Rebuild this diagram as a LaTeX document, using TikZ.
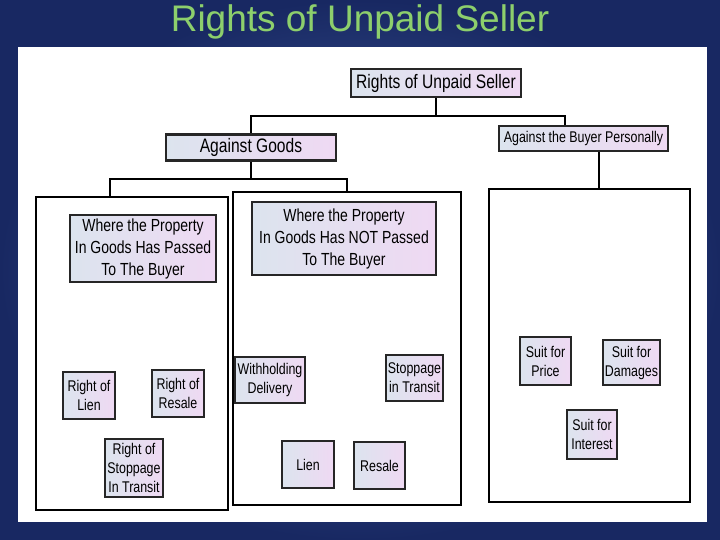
\documentclass[tikz,border=0pt]{standalone}
\usepackage{fontspec}
\setmainfont{Liberation Sans}
\newfontfamily\narrowfont{Liberation Sans}[FakeStretch=0.8]
\definecolor{bgin}{HTML}{4A6AAE}
\definecolor{bgout}{HTML}{182862}
\definecolor{titlegreen}{HTML}{8DCF6C}
\definecolor{boxleft}{HTML}{DCE4EE}
\definecolor{boxright}{HTML}{EFD9F3}

\begin{document}
\begin{tikzpicture}
[
    x = 1pt, y = -1pt,
    box/.style = {draw = black!85, line width = 2.5pt, left color = boxleft, right color = boxright,
        inner sep = 1pt, align = center, font = \narrowfont\fontsize{15.5}{19}\selectfont},
    bigtext/.style = {font = \narrowfont\fontsize{19.5}{22}\selectfont},
    midtext/.style = {font = \narrowfont\fontsize{17.5}{22}\selectfont},
    panel/.style = {draw = black, line width = 2.5pt, fill = white, inner sep = 0pt},
    conn/.style = {draw = black, line width = 2pt}
]

\useasboundingbox (0,0) rectangle (720,540);
\shade [inner color = bgin, outer color = bgout] (0,0) rectangle (720,540);
\fill [white] (18,47) rectangle (707,522);
\node [titlegreen, font = \fontsize{37}{40}\selectfont] (title) at (360,22) {Rights of Unpaid Seller};

\node [box, bigtext, minimum width = 170pt, minimum height = 28pt] (root) at (436,83) {Rights of Unpaid Seller};
\node [box, bigtext, minimum width = 170pt, minimum height = 26pt] (goods) at (251,147.5) {Against Goods};
\node [box, minimum width = 169pt, minimum height = 25pt] (buyer) at (583.5,138.5) {Against the Buyer Personally};

\node [panel, minimum width = 192pt, minimum height = 313pt] (leftbox) at (132,353.5) {};
\node [panel, minimum width = 228pt, minimum height = 313pt] (midbox) at (347,348.5) {};
\node [panel, minimum width = 201pt, minimum height = 313pt] (rightbox) at (589.5,345.5) {};

\node [box, midtext, minimum width = 146pt, minimum height = 67pt] (passed) at (143,248.5)
    {Where the Property\\In Goods Has Passed\\To The Buyer};
\node [box, midtext, minimum width = 184pt, minimum height = 73pt] (notpassed) at (344,238.5)
    {Where the Property\\In Goods Has NOT Passed\\To The Buyer};

\node [box, minimum width = 52pt, minimum height = 47pt] (rlien) at (89,395.5) {Right of\\Lien};
\node [box, minimum width = 52pt, minimum height = 47pt] (rresale) at (178,393.5) {Right of\\Resale};
\node [box, minimum width = 58pt, minimum height = 58pt] (rstop) at (134,468) {Right of\\Stoppage\\In Transit};

\node [box, minimum width = 70pt, minimum height = 46pt] (withhold) at (270,380) {Withholding\\Delivery};
\node [box, minimum width = 57pt, minimum height = 46pt] (stoptransit) at (414.5,378) {Stoppage\\in Transit};
\node [box, minimum width = 52pt, minimum height = 47pt] (lien) at (308,464.5) {Lien};
\node [box, minimum width = 51pt, minimum height = 47pt] (resale) at (379.5,465.5) {Resale};

\node [box, minimum width = 51pt, minimum height = 48pt] (sprice) at (545.5,361) {Suit for\\Price};
\node [box, minimum width = 57pt, minimum height = 45pt] (sdamages) at (631.5,362.5) {Suit for\\Damages};
\node [box, minimum width = 50pt, minimum height = 49pt] (sinterest) at (592,434.5) {Suit for\\Interest};

\draw [conn] (root.south) -- ++(0,18) coordinate (rootjoin);
\draw [conn] (goods.north) |- (rootjoin) -| ([xshift=-19pt]buyer.north);
\draw [conn] (goods.south) -- ++(0,17) coordinate (goodsjoin);
\draw [conn] ([xshift=-22pt]leftbox.north) |- (goodsjoin) -| (midbox.north);
\draw [conn] ([xshift=15pt]buyer.south) -- ([xshift=15pt]buyer.south |- rightbox.north);

\end{tikzpicture}
\end{document}
